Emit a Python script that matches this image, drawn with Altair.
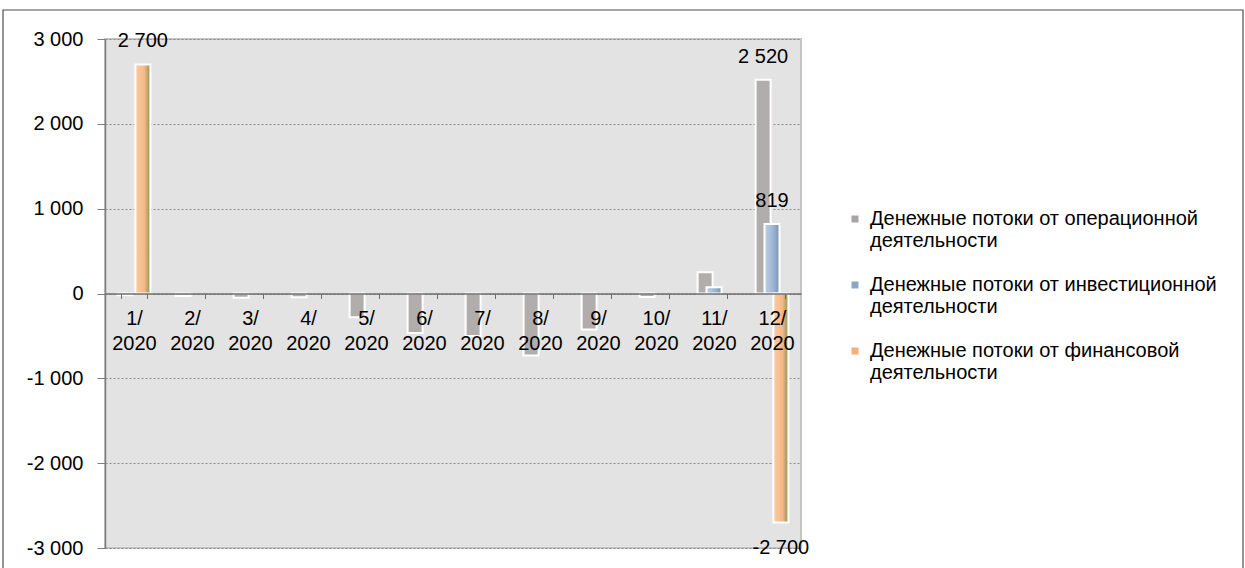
import altair as alt
import pandas as pd

months = ["1/ 2020", "2/ 2020", "3/ 2020", "4/ 2020", "5/ 2020", "6/ 2020",
          "7/ 2020", "8/ 2020", "9/ 2020", "10/ 2020", "11/ 2020", "12/ 2020"]
series = ["Денежные потоки от операционной деятельности",
          "Денежные потоки от инвестиционной деятельности",
          "Денежные потоки от финансовой деятельности"]
operating = [-20, -30, -50, -45, -280, -465, -500, -730, -425, -40, 250, 2520]
investing = [0, 0, 0, 0, 0, 0, 0, 0, 0, 0, 75, 819]
financing = [2700, 0, 0, 0, 0, 0, 0, 0, 0, 0, 0, -2700]
# which bars carry a data label: (month, series index)
labeled = [("1/ 2020", 2), ("12/ 2020", 0), ("12/ 2020", 1), ("12/ 2020", 2)]

rows = []
for si, vals in enumerate([operating, investing, financing]):
    for m, v in zip(months, vals):
        rows.append({"month": m, "series": series[si], "value": v,
                     "label": 1 if (m, si) in labeled else 0})
df = pd.DataFrame(rows)

FONT = "Liberation Sans"
W, H = 696, 509

x_enc = alt.X("month:N", sort=months,
              scale=alt.Scale(paddingInner=0.54, paddingOuter=0.27),
              axis=alt.Axis(title=None, orient="bottom", offset=-H / 2, zindex=1,
                            labelAngle=0, labelExpr="split(datum.label, ' ')",
                            labelFontSize=20, labelFont=FONT, labelColor="#000000",
                            labelLineHeight=25, labelPadding=10,
                            domainColor="#6e6e6e", domainWidth=1.5,
                            tickColor="#6e6e6e", tickSize=5, tickBand="extent",
                            grid=False))
y_enc = alt.Y("value:Q",
              scale=alt.Scale(domain=[-3000, 3000], nice=False, zero=True),
              axis=alt.Axis(title=None, values=[-3000, -2000, -1000, 0, 1000, 2000, 3000],
                            format=",.0f", labelFontSize=20, labelFont=FONT,
                            labelColor="#000000", labelPadding=14,
                            tickSize=8, tickColor="#7f7f7f",
                            domainColor="#7f7f7f", domainWidth=1.5,
                            grid=True, gridColor="#8a8a8a", gridDash=[2, 2],
                            gridWidth=1))
xoff = alt.XOffset("series:N", scale=alt.Scale(domain=series, paddingInner=0, paddingOuter=0))

base = alt.Chart(df)

legend_layer = base.mark_square(opacity=0, size=49).encode(
    x=x_enc, y=y_enc,
    color=alt.Color("series:N", scale=alt.Scale(domain=series,
                                                 range=["#a9a5a5", "#8ea6c6", "#f2b07e"]),
                    legend=alt.Legend(title=None, orient="none", legendX=740, legendY=170,
                                      symbolType="square", symbolSize=49,
                                      symbolOpacity=1, symbolStrokeWidth=0,
                                      labelFontSize=20, labelFont=FONT,
                                      labelColor="#000000", labelLimit=450,
                                      labelOffset=5, rowPadding=24,
                                      labelExpr="[slice(datum.label, 0, lastindexof(datum.label, ' ')), slice(datum.label, lastindexof(datum.label, ' ') + 1)]"))
)

bar_kw = dict(width=15, stroke="white", strokeWidth=2)

gray_bars = base.transform_filter(
    alt.datum.series == series[0]
).transform_filter(alt.datum.value != 0).mark_bar(fill="#b1adad", **bar_kw).encode(
    x=x_enc, y=y_enc, xOffset=xoff)

blue_grad = alt.LinearGradient(gradient="linear", x1=0, x2=1, y1=0, y2=0, stops=[
    alt.GradientStop(color="#bccfe6", offset=0),
    alt.GradientStop(color="#a3b9d6", offset=0.5),
    alt.GradientStop(color="#7a93b4", offset=1)])
blue_bars = base.transform_filter(
    alt.datum.series == series[1]
).transform_filter(alt.datum.value != 0).mark_bar(fill=blue_grad, **bar_kw).encode(
    x=x_enc, y=y_enc, xOffset=xoff)

orange_grad = alt.LinearGradient(gradient="linear", x1=0, x2=1, y1=0, y2=0, stops=[
    alt.GradientStop(color="#fbcaa0", offset=0),
    alt.GradientStop(color="#f6b888", offset=0.6),
    alt.GradientStop(color="#c9a56e", offset=0.78),
    alt.GradientStop(color="#86994f", offset=1)])
orange_bars = base.transform_filter(
    alt.datum.series == series[2]
).transform_filter(alt.datum.value != 0).mark_bar(fill=orange_grad, **bar_kw).encode(
    x=x_enc, y=y_enc, xOffset=xoff)

pos_labels = base.transform_filter(
    (alt.datum.label == 1) & (alt.datum.value > 0)
).mark_text(fontSize=20, font=FONT, color="#000000", baseline="bottom", dy=-13).encode(
    x=x_enc, y=y_enc, xOffset=xoff, text=alt.Text("value:Q", format=",.0f"))

neg_labels = base.transform_filter(
    (alt.datum.label == 1) & (alt.datum.value < 0)
).mark_text(fontSize=20, font=FONT, color="#000000", baseline="top", dy=15).encode(
    x=x_enc, y=y_enc, xOffset=xoff, text=alt.Text("value:Q", format=",.0f"))

frame = alt.Chart(pd.DataFrame({"f": [0]})).mark_rect(
    fillOpacity=0, stroke="#4d4d4d", strokeWidth=1.2
).encode(x=alt.value(-102), x2=alt.value(1138), y=alt.value(-29), y2=alt.value(560))

chart = alt.layer(
    frame, legend_layer, gray_bars, blue_bars, orange_bars, pos_labels, neg_labels
).properties(
    width=W, height=H,
    autosize=alt.AutoSizeParams(type="none"),
    padding={"left": 105, "top": 39, "right": 444, "bottom": 20},
    background="white",
).configure(
    locale={"number": {"decimal": ",", "thousands": " ", "grouping": [3],
                       "currency": ["", ""], "minus": "-"}}
).configure_view(
    fill="#e3e3e3", stroke="#c4c4c4", strokeWidth=2
)

chart.save("out.html", embed_options={"renderer": "svg", "actions": False})
